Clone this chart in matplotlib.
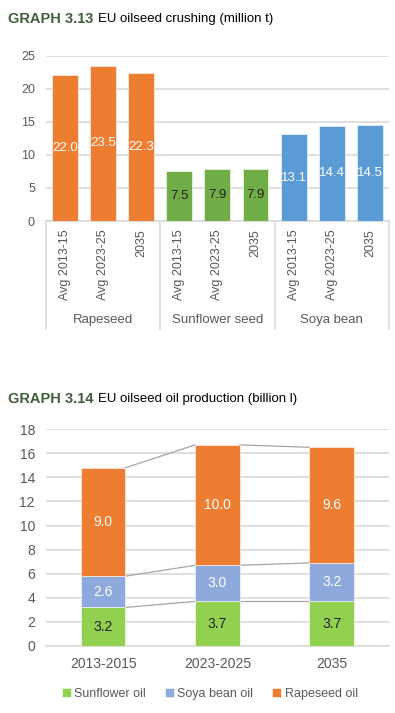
import numpy as np
import matplotlib.pyplot as plt
from matplotlib.transforms import blended_transform_factory

plt.rcParams['font.family'] = ['Liberation Sans', 'DejaVu Sans']

# Graph 3.13 data
crops = ['Rapeseed', 'Sunflower seed', 'Soya bean']
periods = ['Avg 2013-15', 'Avg 2023-25', '2035']
rapeseed = [22.0, 23.5, 22.3]
sunflower = [7.5, 7.9, 7.9]
soya = [13.1, 14.4, 14.5]

# Graph 3.14 data
years = ['2013-2015', '2023-2025', '2035']
sun_oil = [3.2, 3.7, 3.7]
soya_oil = [2.6, 3.0, 3.2]
rape_oil = [9.0, 10.0, 9.6]

orange = '#ED7D31'
green = '#70AD47'
blue = '#5B9BD5'
lgreen = '#92D050'
lblue = '#8EA9DB'
grid = '#D9D9D9'
tick = '#595959'
title_col = '#3F5E3A'

fig = plt.figure(figsize=(3.95, 7.13), dpi=100)


def title(y, head, rest):
    t = fig.text(0.02, y, head, fontsize=10.5, fontweight='bold', color=title_col, va='center')
    fig.canvas.draw()
    bb = t.get_window_extent().transformed(fig.transFigure.inverted())
    fig.text(bb.x1 + 0.012, y, rest, fontsize=9.5, color='black', va='center')


# ---------- top chart ----------
ax1 = fig.add_axes([0.1165, 0.690, 0.868, 0.232])
series = [(rapeseed, orange, 'white'), (sunflower, green, '#222222'), (soya, blue, 'white')]
for g, (vals, col, tcol) in enumerate(series):
    x = np.arange(3) + 3 * g
    bars = ax1.bar(x, vals, width=0.68, color=col, edgecolor='white', linewidth=0.4, zorder=3)
    for b, v in zip(bars, vals):
        ax1.text(b.get_x() + b.get_width() / 2, v / 2, f'{v:.1f}', ha='center', va='center',
                 color=tcol, fontsize=9.5, zorder=4)

ax1.set_xlim(-0.5, 8.5)
ax1.set_ylim(0, 25)
ax1.set_yticks(range(0, 26, 5))
ax1.yaxis.grid(True, color=grid, linewidth=1.2, zorder=0)
ax1.set_xticks(range(9))
ax1.set_xticklabels(periods * 3, rotation=90, va='top', ha='center')
ax1.tick_params(axis='both', length=0, colors=tick, labelsize=9)
ax1.tick_params(axis='x', pad=6)
ax1.tick_params(axis='y', pad=8)
for s in ['top', 'right', 'left']:
    ax1.spines[s].set_visible(False)
ax1.spines['bottom'].set_color(grid)
ax1.spines['bottom'].set_linewidth(1.2)

tr = blended_transform_factory(ax1.transData, ax1.transAxes)
for xs in [-0.5, 2.5, 5.5, 8.5]:
    ax1.plot([xs, xs], [0, -0.655], transform=tr, color=grid, linewidth=1.2, clip_on=False)
for g, name in enumerate(crops):
    ax1.text(3 * g + 1, -0.6, name, transform=tr, ha='center', va='center',
             color=tick, fontsize=9.5)

title(0.974, 'GRAPH 3.13', 'EU oilseed crushing (million t)')

# ---------- bottom chart ----------
ax2 = fig.add_axes([0.1165, 0.094, 0.868, 0.304])
x = np.arange(3)
w = 0.39
b1 = ax2.bar(x, sun_oil, width=w, color=lgreen, edgecolor='white', linewidth=0.4, zorder=3,
             label='Sunflower oil')
b2 = ax2.bar(x, soya_oil, width=w, bottom=sun_oil, color=lblue, edgecolor='white',
             linewidth=0.4, zorder=3, label='Soya bean oil')
bottom3 = np.array(sun_oil) + np.array(soya_oil)
b3 = ax2.bar(x, rape_oil, width=w, bottom=bottom3, color=orange, edgecolor='white',
             linewidth=0.4, zorder=3, label='Rapeseed oil')

for bars, vals, base, tcol in [(b1, sun_oil, np.zeros(3), '#222222'),
                               (b2, soya_oil, np.array(sun_oil), 'white'),
                               (b3, rape_oil, bottom3, 'white')]:
    for b, v, bs in zip(bars, vals, base):
        ax2.text(b.get_x() + w / 2, bs + v / 2, f'{v:.1f}', ha='center', va='center',
                 color=tcol, fontsize=10, zorder=4)

# series lines between bars
for tops in [np.array(sun_oil), bottom3, bottom3 + np.array(rape_oil)]:
    for i in range(2):
        ax2.plot([x[i] + w / 2, x[i + 1] - w / 2], [tops[i], tops[i + 1]],
                 color='#A5A5A5', linewidth=0.9, zorder=2)

ax2.set_xlim(-0.5, 2.5)
ax2.set_ylim(0, 18)
ax2.set_yticks(range(0, 19, 2))
ax2.yaxis.grid(True, color=grid, linewidth=1.2, zorder=0)
ax2.set_xticks(x)
ax2.set_xticklabels(years)
ax2.tick_params(axis='both', length=0, colors=tick, labelsize=10)
ax2.tick_params(axis='x', pad=8)
ax2.tick_params(axis='y', pad=8)
for s in ['top', 'right', 'left']:
    ax2.spines[s].set_visible(False)
ax2.spines['bottom'].set_color(grid)
ax2.spines['bottom'].set_linewidth(1.2)

ax2.legend(loc='upper center', bbox_to_anchor=(0.478, -0.17), ncol=3, frameon=False,
           fontsize=9, handlelength=0.7, handleheight=0.7, handletextpad=0.3,
           columnspacing=1.5, labelcolor=tick, borderaxespad=0)

title(0.440, 'GRAPH 3.14', 'EU oilseed oil production (billion l)')

fig.savefig('out.png', dpi=100)
